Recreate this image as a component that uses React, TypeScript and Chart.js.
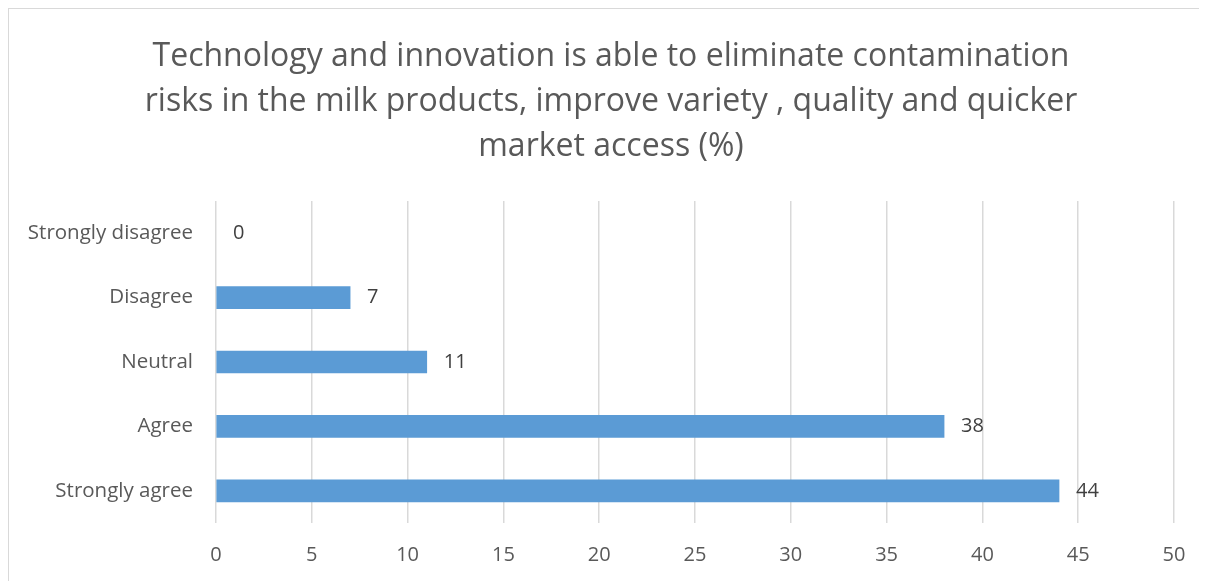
import React, { useEffect, useRef } from "react";
import { Chart, registerables } from "chart.js";

Chart.register(...registerables);

const titleLines = [
  "Technology and innovation is able to eliminate contamination",
  "risks in the milk products, improve variety , quality and quicker",
  "market access (%)",
];
const categories = ["Strongly disagree", "Disagree", "Neutral", "Agree", "Strongly agree"];
const values = [0, 7, 11, 38, 44];
const xTicks = [0, 5, 10, 15, 20, 25, 30, 35, 40, 45, 50];

const FONT = "'Open Sans', sans-serif";

const TITLE_CENTER_X = 602;
const TITLE_FIRST_BASELINE = 57;
const TITLE_LINE_H = 44.75;

const customTitle = {
  id: "customTitle",
  afterDraw(chart: any) {
    const ctx = chart.ctx;
    ctx.save();
    ctx.font = `32px ${FONT}`;
    ctx.fillStyle = "#595959";
    ctx.textAlign = "center";
    ctx.textBaseline = "alphabetic";
    titleLines.forEach((line, i) => {
      ctx.fillText(line, TITLE_CENTER_X, TITLE_FIRST_BASELINE + i * TITLE_LINE_H);
    });
    ctx.restore();
  },
};

const valueLabels = {
  id: "valueLabels",
  afterDatasetsDraw(chart: any) {
    const ctx = chart.ctx;
    const meta = chart.getDatasetMeta(0);
    ctx.save();
    ctx.font = `20px ${FONT}`;
    ctx.fillStyle = "#404040";
    ctx.textAlign = "left";
    ctx.textBaseline = "middle";
    meta.data.forEach((bar: any, i: number) => {
      ctx.fillText(String(values[i]), bar.x + 17, bar.y);
    });
    ctx.restore();
  },
};

export default function App() {
  const ref = useRef<HTMLCanvasElement>(null);
  useEffect(() => {
    document.body.style.overflow = "hidden";
    const chart = new Chart(ref.current!, {
      type: "bar",
      data: {
        labels: categories,
        datasets: [
          {
            data: values,
            backgroundColor: values.map((v) => (v === 0 ? "rgba(0,0,0,0)" : "#5B9BD5")),
            barThickness: 22,
          },
        ],
      },
      options: {
        indexAxis: "y",
        responsive: false,
        animation: false,
        layout: { padding: { left: 0, right: 33, top: 192, bottom: -6 } },
        plugins: {
          legend: { display: false },
          tooltip: { enabled: false },
          title: { display: false },
        },
        scales: {
          x: {
            min: 0,
            max: 50,
            afterBuildTicks: (scale: any) => {
              scale.ticks = xTicks.map((v) => ({ value: v }));
            },
            grid: { color: "#D9D9D9", lineWidth: 1.5, drawTicks: false },
            border: { display: false },
            ticks: {
              color: "#595959",
              font: { family: FONT, size: 20 },
              padding: 20,
            },
          },
          y: {
            grid: { display: false, drawTicks: false },
            border: { display: false },
            afterFit: (scale: any) => {
              scale.width = 207;
            },
            ticks: {
              color: "#595959",
              font: { family: FONT, size: 20.5 },
              padding: 23,
            },
          },
        },
      },
      plugins: [valueLabels, customTitle],
    });
    return () => chart.destroy();
  }, []);
  return (
    <div
      style={{
        width: 1198,
        height: 572,
        borderLeft: "1px solid #D9D9D9",
        borderTop: "1px solid #D9D9D9",
      }}
    >
      <canvas ref={ref} width={1198} height={572} style={{ display: "block" }} />
    </div>
  );
}
